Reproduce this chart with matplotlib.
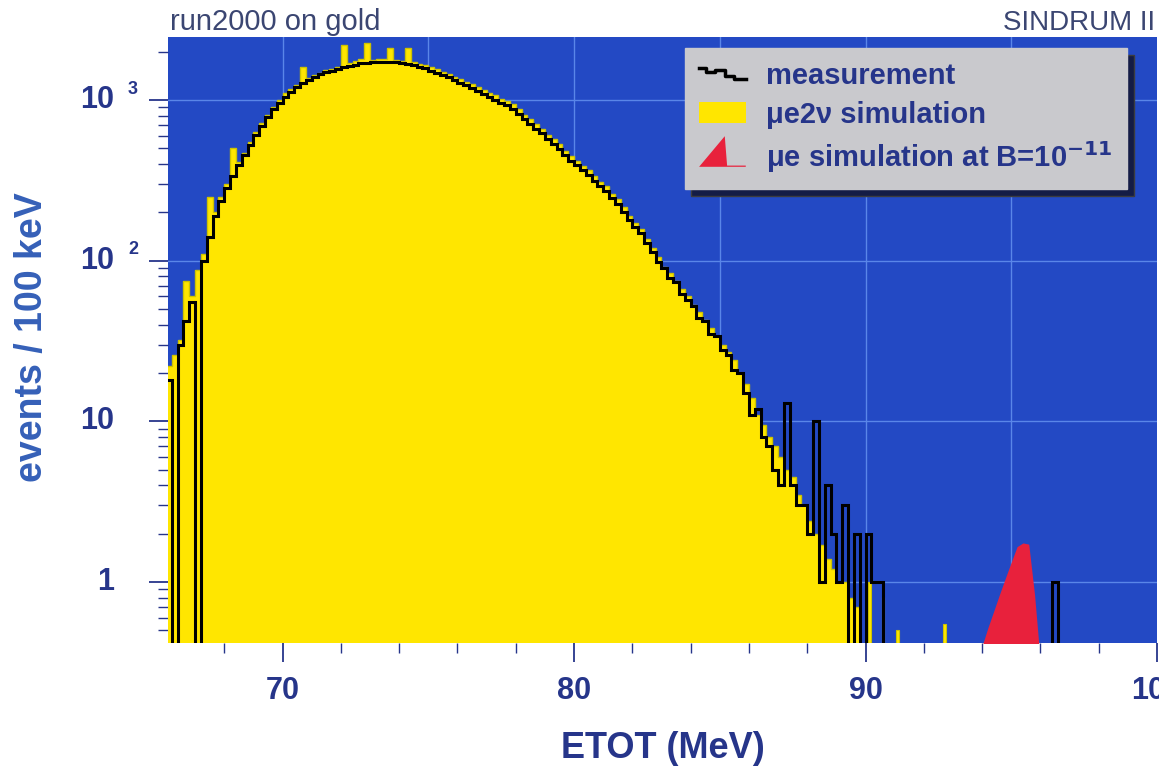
import numpy as np
import matplotlib.pyplot as plt
import matplotlib.patches as mpatches
import matplotlib.transforms as mtransforms
from matplotlib.lines import Line2D
from matplotlib.legend_handler import HandlerBase, HandlerPatch
from matplotlib.ticker import MultipleLocator, FixedLocator, LogLocator, NullFormatter

plt.rcParams['font.family'] = ['Liberation Sans', 'DejaVu Sans']
plt.rcParams['font.weight'] = 'bold'
plt.rcParams['axes.labelweight'] = 'bold'

# histograms, 0.2 MeV bins starting at 66.0 MeV
e_start = 66.0
bin_w = 0.2

# mu e2nu simulation (yellow)
sim = [22, 26, 32, 75, 60, 88, 110, 250, 200, 250,
       300, 500, 410, 470, 545, 630, 720, 810, 900, 1000,
       1100, 1170, 1250, 1600, 1380, 1430, 1480, 1530, 1570, 1610,
       2200, 1700, 1750, 1800, 2280, 1780, 1800, 1800, 2100, 1780,
       1760, 2100, 1720, 1680, 1650, 1600, 1560, 1500, 1460, 1400,
       1350, 1300, 1260, 1210, 1160, 1100, 1070, 1020, 990, 940,
       880, 810, 760, 710, 660, 610, 570, 530, 485, 450,
       415, 390, 365, 335, 310, 290, 262, 242, 215, 190,
       172, 157, 137, 120, 105, 92, 84, 75, 67, 60,
       53, 48, 43, 38, 34, 30, 27, 24, 20, 17,
       14, 11, 9.5, 8, 7, 6, 5, 4.5, 3.5, 3,
       2.4, 2, 1.7, 1.4, 1.2, 1.0, 1.0, 0.8, 0.7, 0]

# measurement (black)
meas = [18, 0, 30, 42, 55, 0, 100, 140, 190, 235,
        285, 335, 395, 455, 525, 605, 690, 785, 875, 965,
        1050, 1130, 1200, 1280, 1340, 1390, 1445, 1485, 1525, 1565,
        1600, 1635, 1665, 1690, 1705, 1720, 1725, 1730, 1725, 1715,
        1705, 1685, 1655, 1615, 1575, 1525, 1475, 1435, 1385, 1335,
        1285, 1235, 1195, 1145, 1095, 1045, 1005, 965, 935, 885,
        825, 765, 710, 665, 620, 575, 535, 495, 455, 420,
        392, 365, 340, 315, 292, 270, 247, 225, 202, 178,
        162, 148, 128, 113, 98, 90, 78, 74, 62, 57,
        52, 44, 42, 35, 34, 28, 26, 21, 20, 15,
        11, 12, 8, 7, 5, 4, 13, 4, 3, 3,
        2, 10, 1, 4, 2, 1, 3, 0, 2, 0,
        2, 1, 1, 0, 0, 0, 0, 0, 0, 0,
        0, 0, 0, 0, 0, 0, 0, 0, 0, 0,
        0, 0, 0, 0, 0, 0, 0, 0, 0, 0,
        0, 0, 1, 0, 0]

# isolated simulation entries beyond the edge (0.1 MeV wide)
tail_E = [90.15, 90.6, 91.1, 92.7]
tail_N = [1.0, 0.8, 0.5, 0.55]

# mu e signal simulation at B=1e-11 (red)
mue_E = [94.0, 94.2, 94.4, 94.6, 94.8, 95.0, 95.2, 95.4, 95.6, 95.8, 95.95]
mue_N = [0.4, 0.52, 0.66, 0.84, 1.06, 1.33, 1.66, 1.75, 1.72, 0.83, 0.4]

ytick_vals = [1, 10, 100, 1000]
ytick_base = ['1', '10', '10', '10']
ytick_sup = ['', '', '2', '3']

BLUE = '#2349c4'
YEL = '#ffe600'
RED = '#e8213c'
NAVY = '#26358a'
GRID = '#5a86e8'

sim = np.array(sim, dtype=float)
meas = np.array(meas, dtype=float)
edges_s = e_start + bin_w * np.arange(len(sim) + 1)
edges_m = e_start + bin_w * np.arange(len(meas) + 1)
tiny = 1e-3

fig = plt.figure(figsize=(11.59, 7.72), dpi=100)
ax = fig.add_axes([168 / 1159, 129 / 772, 989 / 1159, 606 / 772])
ax.set_facecolor(BLUE)
ax.set_yscale('log')
ax.set_xlim(66.07, 100.0)
ax.set_ylim(0.417, 2470)

for v in ytick_vals:
    ax.axhline(v, color=GRID, lw=1, zorder=0.5)
for e in range(70, 100, 5):
    ax.axvline(e, color=GRID, lw=1, zorder=0.5)

ax.stairs(np.where(sim > 0, sim, tiny), edges_s, fill=True, color=YEL,
          baseline=tiny, zorder=2)
ax.stairs(np.where(sim > 0, sim, tiny), edges_s, color='#cdc300', lw=1,
          baseline=None, zorder=2.1)
ax.bar(tail_E, tail_N, width=0.1, bottom=tiny, color=YEL,
       edgecolor='#cdc300', lw=0.8, zorder=2)
ax.fill_between(mue_E, mue_N, tiny, color=RED, lw=0, zorder=2.5)
ax.stairs(np.where(meas > 0, meas, tiny), edges_m, color='k', lw=2.2,
          baseline=None, zorder=3)

for s in ax.spines.values():
    s.set_visible(False)

ax.xaxis.set_major_locator(MultipleLocator(10))
ax.xaxis.set_minor_locator(MultipleLocator(2))
ax.yaxis.set_major_locator(FixedLocator(ytick_vals))
ax.yaxis.set_minor_locator(LogLocator(base=10, subs=np.arange(2, 10)))
ax.yaxis.set_major_formatter(NullFormatter())
ax.yaxis.set_minor_formatter(NullFormatter())
ax.tick_params(which='major', direction='out', length=14, width=1.3,
               color=NAVY, labelsize=22, labelcolor=NAVY, pad=10)
ax.tick_params(which='minor', direction='out', length=7, width=1, color=NAVY)

trans = mtransforms.blended_transform_factory(ax.transAxes, ax.transData)
trans_sup = mtransforms.offset_copy(trans, fig=fig, x=0, y=11, units='dots')
for v, b, sp in zip(ytick_vals, ytick_base, ytick_sup):
    ax.text((114 - 168) / 989, v, b, transform=trans, ha='right', va='center',
            fontsize=22, color=NAVY)
    if sp:
        ax.text((128 - 168) / 989, v, sp, transform=trans_sup, ha='left',
                va='center', fontsize=13, color=NAVY)

ax.set_xlabel('ETOT (MeV)', fontsize=26, fontweight='bold', color=NAVY)
ax.xaxis.set_label_coords(0.5, -(748 - 643) / 606)
ax.xaxis.label.set_va('center')
ax.set_ylabel('events / 100 keV', fontsize=27, fontweight='bold', color='#3560b8')
ax.yaxis.set_label_coords((32 - 168) / 989, (643 - 337) / 606)
ax.yaxis.label.set_va('center')

ax.text(0.002, 1 + 7 / 606, 'run2000 on gold', transform=ax.transAxes,
        ha='left', va='baseline', fontsize=21, fontweight='normal', color='#3b4672')
ax.text(0.998, 1 + 7 / 606, 'SINDRUM II', transform=ax.transAxes,
        ha='right', va='baseline', fontsize=20, fontweight='normal', color='#3b4672')


class StepLineHandler(HandlerBase):
    def create_artists(self, legend, orig_handle, xdescent, ydescent,
                       width, height, fontsize, trans):
        fx = np.array([0, .15, .15, .35, .35, .55, .55, .75, .75, 1.0])
        fy = np.array([.8, .8, .6, .6, .7, .7, .4, .4, .25, .25])
        ln = Line2D(fx * width - xdescent, fy * height - ydescent,
                    color='k', lw=2.5, transform=trans)
        return [ln]


def tri_patch(legend, orig_handle, xdescent, ydescent, width, height, fontsize):
    x0, y0 = -xdescent, -ydescent
    pts = [[x0, y0], [x0 + 0.55 * width, y0 + 1.5 * height],
           [x0 + 0.6 * width, y0 + 0.06 * height],
           [x0 + width, y0 + 0.06 * height], [x0 + width, y0]]
    return mpatches.Polygon(pts, closed=True)


h_meas = Line2D([], [], color='k')
h_sim = mpatches.Patch(facecolor=YEL, edgecolor='none')
h_mue = mpatches.Patch(facecolor=RED, edgecolor='none')
ax.legend([h_meas, h_sim, h_mue],
          ['measurement', 'μe2ν simulation', 'μe simulation at B=10$^{-11}$'],
          handler_map={h_meas: StepLineHandler(),
                       h_mue: HandlerPatch(patch_func=tri_patch)},
          loc='upper right', bbox_to_anchor=(0.97, 0.982), borderaxespad=0,
          frameon=True, fancybox=False, facecolor='#c9c9cd',
          edgecolor='#c9c9cd', framealpha=1,
          shadow={'ox': 5, 'oy': -5, 'facecolor': '#141c46', 'alpha': 1},
          fontsize=21, handlelength=1.6, handletextpad=0.7,
          labelspacing=0.35, borderpad=0.5, labelcolor=NAVY)

fig.savefig('out.png', dpi=100)
